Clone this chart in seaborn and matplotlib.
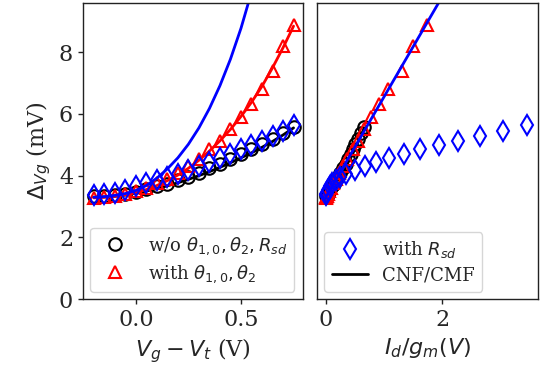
import numpy as np
import pandas as pd
import matplotlib
matplotlib.use("Agg")
import matplotlib.pyplot as plt
import seaborn as sns
from matplotlib.lines import Line2D

# ---- data ----
vgt = [-0.20, -0.15, -0.10, -0.05, 0.00, 0.05, 0.10, 0.15, 0.20, 0.25,
       0.30, 0.35, 0.40, 0.45, 0.50, 0.55, 0.60, 0.65, 0.70, 0.75]

dv_wo = [3.35, 3.35, 3.37, 3.41, 3.48, 3.56, 3.65, 3.74, 3.85, 3.97,
         4.10, 4.24, 4.38, 4.54, 4.70, 4.86, 5.03, 5.20, 5.38, 5.57]
dv_theta = [3.28, 3.30, 3.33, 3.40, 3.50, 3.60, 3.75, 3.90, 4.10, 4.30,
            4.53, 4.85, 5.12, 5.50, 5.90, 6.32, 6.81, 7.40, 8.22, 8.89]
dv_rsd = [3.38, 3.40, 3.44, 3.53, 3.68, 3.76, 3.86, 3.96, 4.07, 4.19,
          4.30, 4.44, 4.56, 4.70, 4.85, 4.98, 5.12, 5.28, 5.45, 5.65]

fit_wo = [3.30, 3.31, 3.33, 3.37, 3.43, 3.50, 3.58, 3.67, 3.77, 3.88,
          4.00, 4.13, 4.27, 4.42, 4.58, 4.74, 4.92, 5.11, 5.32, 5.55]
fit_theta = [3.28, 3.30, 3.33, 3.38, 3.45, 3.55, 3.68, 3.84, 4.02, 4.24,
             4.50, 4.80, 5.13, 5.50, 5.92, 6.38, 6.90, 7.50, 8.15, 8.85]
vgt_fit_rsd = [-0.20, -0.15, -0.10, -0.05, 0.00, 0.05, 0.10, 0.15, 0.20,
               0.25, 0.30, 0.35, 0.40, 0.45, 0.50, 0.55]
fit_rsd = [3.30, 3.32, 3.36, 3.42, 3.52, 3.68, 3.92, 4.22, 4.58,
           5.02, 5.55, 6.18, 6.92, 7.78, 8.78, 9.95]

idgm_wo = [0.01, 0.015, 0.025, 0.035, 0.06, 0.08, 0.11, 0.14, 0.18, 0.21,
           0.25, 0.29, 0.34, 0.38, 0.43, 0.47, 0.51, 0.56, 0.61, 0.66]
idgm_theta = [0.00, 0.01, 0.02, 0.04, 0.06, 0.09, 0.13, 0.18, 0.23, 0.30,
              0.37, 0.46, 0.55, 0.66, 0.78, 0.91, 1.07, 1.30, 1.50, 1.74]
idgm_rsd = [0.00, 0.01, 0.02, 0.04, 0.07, 0.11, 0.17, 0.25, 0.35, 0.50,
            0.67, 0.87, 1.09, 1.34, 1.62, 1.94, 2.27, 2.64, 3.04, 3.44]
idgm_fit = [0.0, 2.0]
dv_fit_right = [3.30, 9.82]

xticks_left = [0.0, 0.5]
xticks_right = [0, 2]
yticks = [0, 2, 4, 6, 8]

# ---- style ----
sns.set_style("ticks")
plt.rcParams["font.family"] = ["DejaVu Serif"]
plt.rcParams["mathtext.fontset"] = "dejavusans"

fig = plt.figure(figsize=(5.45, 3.74), dpi=100)
axL = fig.add_axes([0.152, 0.2005, 0.404, 0.7915])
axR = fig.add_axes([0.582, 0.2005, 0.4055, 0.7915])

ms = 9
mew = 1.5
lw = 2

# left panel
sns.lineplot(x=vgt, y=fit_wo, ax=axL, color="black", lw=lw, sort=False)
sns.lineplot(x=vgt, y=dv_wo, ax=axL, color="black", marker="o", linestyle="",
             mfc="none", mec="black", mew=mew, markersize=ms, sort=False)
sns.lineplot(x=vgt, y=fit_theta, ax=axL, color="red", lw=lw, sort=False)
sns.lineplot(x=vgt, y=dv_theta, ax=axL, color="red", marker="^", linestyle="",
             mfc="none", mec="red", mew=mew, markersize=ms, sort=False)
sns.lineplot(x=vgt, y=dv_rsd, ax=axL, color="blue", marker="d", linestyle="",
             mfc="none", mec="blue", mew=mew, markersize=ms + 1, sort=False)
sns.lineplot(x=vgt_fit_rsd, y=fit_rsd, ax=axL, color="blue", lw=lw, sort=False)

# right panel
sns.lineplot(x=idgm_wo, y=fit_wo, ax=axR, color="black", lw=lw, sort=False)
sns.lineplot(x=idgm_wo, y=dv_wo, ax=axR, color="black", marker="o", linestyle="",
             mfc="none", mec="black", mew=mew, markersize=ms, sort=False)
sns.lineplot(x=idgm_theta, y=dv_theta, ax=axR, color="red", marker="^", linestyle="",
             mfc="none", mec="red", mew=mew, markersize=ms, sort=False)
sns.lineplot(x=idgm_rsd, y=dv_rsd, ax=axR, color="blue", marker="d", linestyle="",
             mfc="none", mec="blue", mew=mew, markersize=ms + 1, sort=False)
sns.lineplot(x=idgm_fit, y=dv_fit_right, ax=axR, color="blue", lw=lw, sort=False)

for ax in (axL, axR):
    ax.set_ylim(0, 9.6)
    ax.set_yticks(yticks)
    for s in ax.spines.values():
        s.set_visible(True)
        s.set_color("#222222")
        s.set_linewidth(1.0)
    ax.tick_params(labelsize=16, length=3.5, width=1, color="#222222")

axL.set_xlim(-0.252, 0.795)
axL.set_xticks(xticks_left)
axL.set_xticklabels(["0.0", "0.5"])
axR.set_xlim(-0.146, 3.64)
axR.set_xticks(xticks_right)
axR.set_yticklabels([])
axR.tick_params(axis="y", length=0)

axL.set_ylabel(r"$\Delta_{Vg}$ (mV)", fontsize=16)
axL.set_xlabel(r"$V_g - V_t$ (V)", fontsize=16)
axR.set_ylabel("")
axR.set_xlabel(r"$I_d/g_m(V)$", fontsize=16)

hL = [Line2D([], [], marker="o", linestyle="", mfc="none", mec="black", mew=mew, markersize=ms),
      Line2D([], [], marker="^", linestyle="", mfc="none", mec="red", mew=mew, markersize=ms)]
axL.legend(hL, [r"w/o $\theta_{1,0}, \theta_2, R_{sd}$", r"with $\theta_{1,0}, \theta_2$"],
           loc="lower left", fontsize=13, borderaxespad=0.4, labelspacing=0.35,
           bbox_to_anchor=(0.0, 0.0))
hR = [Line2D([], [], marker="d", linestyle="", mfc="none", mec="blue", mew=mew, markersize=ms + 1),
      Line2D([], [], color="black", lw=lw)]
axR.legend(hR, [r"with $R_{sd}$", "CNF/CMF"], loc="lower left", fontsize=13,
           borderaxespad=0.4, labelspacing=0.35)

fig.savefig("out.png", dpi=100)
